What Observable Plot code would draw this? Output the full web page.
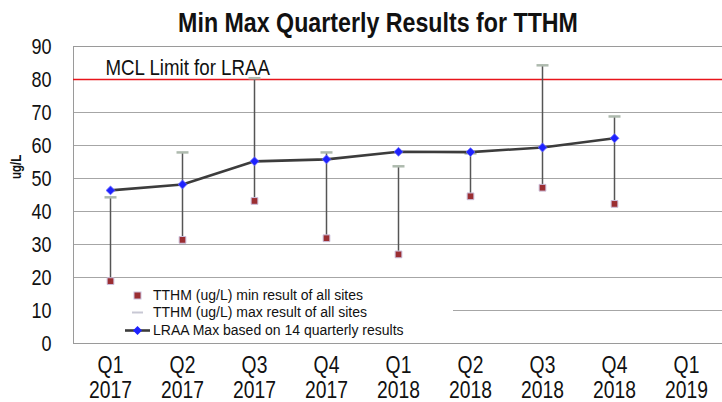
<!DOCTYPE html>
<html>
<head>
<meta charset="utf-8">
<script src="https://cdn.jsdelivr.net/npm/d3@7"></script>
<script src="https://cdn.jsdelivr.net/npm/@observablehq/plot@0.6"></script>
<style>
  body { margin: 0; background: #fff; }
  #wrap { position: relative; width: 722px; height: 402px; font-family: "Liberation Sans", Arial, sans-serif; }
  #legend { position: absolute; left: 74px; top: 285px; width: 379px; height: 55px; background: #fff;
    font-family: "Liberation Sans", Arial, sans-serif; font-size: 14px; color: #111; }
  .row { position: absolute; left: 79px; height: 17px; line-height: 17px; display: flex; align-items: center; }
  .row svg { position: absolute; left: -28px; top: 0; }
  .row span { white-space: nowrap; }
</style>
</head>
<body>
<div id="wrap"></div>
<script>
const title = "Min Max Quarterly Results for TTHM";
const quarters = ["Q1\n2017","Q2\n2017","Q3\n2017","Q4\n2017","Q1\n2018","Q2\n2018","Q3\n2018","Q4\n2018","Q1\n2019"];
const dataQuarters = ["Q1\n2017","Q2\n2017","Q3\n2017","Q4\n2017","Q1\n2018","Q2\n2018","Q3\n2018","Q4\n2018"];
const lraaMax = [46.4, 48.2, 55.2, 55.8, 58.1, 58.0, 59.4, 62.2];
const minResult = [18.9, 31.4, 43.2, 31.9, 27.0, 44.6, 47.2, 42.3];
const maxResult = [44.3, 57.9, 80.4, 57.9, 53.7, 57.6, 84.3, 68.8];
const mclLimit = 80;
const mclLabel = "MCL Limit for LRAA";
const yLabel = "ug/L";
const legendLabels = ["TTHM (ug/L) min result of all sites", "TTHM (ug/L) max result of all sites", "LRAA Max based on 14 quarterly results"];

const data = dataQuarters.map((q, i) => ({q, lraa: lraaMax[i], min: minResult[i], max: maxResult[i]}));

const hline = { draw(ctx, size) { ctx.moveTo(-6, 0); ctx.lineTo(6, 0); } };

const chart = Plot.plot({
  width: 722,
  height: 402,
  marginTop: 46,
  marginBottom: 59,
  marginLeft: 73,
  marginRight: 0,
  style: { fontFamily: "'Liberation Sans', Arial, sans-serif", background: "#fff", overflow: "visible" },
  x: { type: "point", domain: quarters, padding: 0.5 },
  y: { domain: [0, 90] },
  marks: [
    Plot.gridY({ ticks: d3.range(0, 91, 10), stroke: "#a6a6a6", strokeOpacity: 1, strokeWidth: 1.2 }),
    Plot.frame({ stroke: "#9a9a9a" }),
    Plot.ruleY([mclLimit], { stroke: "#e8141b", strokeWidth: 1.6 }),
    Plot.text([mclLabel], { frameAnchor: "left", y: () => mclLimit, dx: 32, dy: -12, textAnchor: "start", lineAnchor: "middle", fontSize: 22, fill: "#111" }),
    Plot.ruleX(data, { x: "q", y1: "min", y2: "max", stroke: "#555", strokeWidth: 1.5 }),
    Plot.dot(data, { x: "q", y: "max", symbol: hline, r: 6, stroke: "#aebaae", strokeWidth: 2.5 }),
    Plot.dot(data, { x: "q", y: "min", symbol: "square", r: 3.8, fill: "#9b2e32", stroke: "#cbbfdb", strokeWidth: 1 }),
    Plot.line(data, { x: "q", y: "lraa", stroke: "#3c3c3c", strokeWidth: 2.6 }),
    Plot.dot(data, { x: "q", y: "lraa", symbol: "diamond2", r: 4, fill: "#1e22ff", stroke: "#6b6bff", strokeWidth: 0.8 }),
    Plot.axisY({ ticks: d3.range(0, 91, 10), tickSize: 0, tickPadding: 22, fontSize: 22, label: null, fill: "#111" }),
    Plot.axisX({ tickSize: 0, tickPadding: 12, fontSize: 23, label: null, fill: "#111", lineHeight: 1.09 }),
    Plot.text([yLabel], { frameAnchor: "left", dx: -57, dy: -16, rotate: -90, fontSize: 14, fontWeight: "bold", fill: "#111" }),
    Plot.text([title], { frameAnchor: "top", dx: -20, dy: -23, lineAnchor: "middle", fontSize: 27, fontWeight: "bold", fill: "#111" })
  ]
});

// condense text horizontally to mimic a narrow typeface
chart.querySelectorAll("text").forEach(t => {
  const tr = t.getAttribute("transform") || "";
  const txt = t.textContent;
  let s = 0.82;
  if (txt === title) s = 0.86;
  else if (txt === mclLabel) s = 0.85;
  else if (/^Q\d/.test(txt)) s = 0.84;
  t.setAttribute("transform", tr + ` scale(${s},1)`);
});

const wrap = document.getElementById("wrap");
wrap.appendChild(chart);

const legend = document.createElement("div");
legend.id = "legend";
const swatches = [
  `<svg width="24" height="17"><rect x="9" y="5" width="7" height="7" fill="#9b2e32" stroke="#cbbfdb" stroke-width="1"/></svg>`,
  `<svg width="24" height="17"><line x1="7" x2="18" y1="8.5" y2="8.5" stroke="#c8c8d4" stroke-width="2"/></svg>`,
  `<svg width="26" height="17"><line x1="0" x2="25" y1="8.5" y2="8.5" stroke="#3c3c3c" stroke-width="2.6"/><path d="M12.5 4 L17 8.5 L12.5 13 L8 8.5 Z" fill="#1e22ff"/></svg>`
];
const tops = [2, 19, 37];
legendLabels.forEach((t, i) => {
  const row = document.createElement("div");
  row.className = "row";
  row.style.top = tops[i] + "px";
  row.innerHTML = swatches[i] + `<span>${t}</span>`;
  legend.appendChild(row);
});
wrap.appendChild(legend);
</script>
</body>
</html>
